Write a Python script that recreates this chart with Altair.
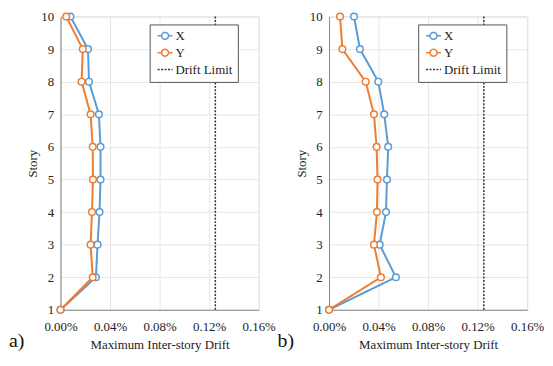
import altair as alt
import pandas as pd

stories = [1, 2, 3, 4, 5, 6, 7, 8, 9, 10]
# drift values in percent
a_x = [0.0, 0.0286, 0.0299, 0.0315, 0.0323, 0.0323, 0.031, 0.023, 0.0222, 0.008]
a_y = [0.0, 0.026, 0.0243, 0.0254, 0.0262, 0.026, 0.0243, 0.017, 0.018, 0.0046]
b_x = [0.0, 0.054, 0.0409, 0.046, 0.0468, 0.0478, 0.0446, 0.0398, 0.025, 0.0202]
b_y = [0.0, 0.0419, 0.0363, 0.0387, 0.0392, 0.0384, 0.0363, 0.0296, 0.0108, 0.0089]
drift_limit = 0.125
series_names = ["X", "Y", "Drift Limit"]
series_colors = ["#5B9BD5", "#ED7D31", "#333333"]
x_ticks = [0.0, 0.04, 0.08, 0.12, 0.16]
panel_labels = ["a)", "b)"]

FONT = "Liberation Serif"

circle_path = "M-1.5,0H-0.7M0.7,0H1.5M0.7,0A0.7,0.7,0,1,1,-0.7,0A0.7,0.7,0,1,1,0.7,0"
line_path = "M-1.5,0H1.5"

color_scale = alt.Scale(domain=series_names, range=series_colors)
dash_scale = alt.Scale(domain=series_names, range=[[1, 0], [1, 0], [2, 1.5]])
shape_scale = alt.Scale(domain=series_names, range=[circle_path, circle_path, line_path])


def make_legend():
    return alt.Legend(
        title=None,
        orient="none",
        legendX=90,
        legendY=8,
        strokeColor="#555555",
        fillColor="white",
        padding=5,
        cornerRadius=0,
        symbolSize=100,
        symbolOffset=4,
        labelOffset=4,
        rowPadding=3,
        labelFont=FONT,
        labelFontSize=13,
        labelColor="#222222",
        symbolStrokeWidth=1.5,
        symbolOpacity=1,
        symbolFillColor="transparent",
    )


def panel(xs, ys, label):
    rows = []
    for s, v in zip(stories, xs):
        rows.append({"story": s, "drift": v / 100, "series": "X"})
    for s, v in zip(stories, ys):
        rows.append({"story": s, "drift": v / 100, "series": "Y"})
    df = pd.DataFrame(rows)
    lim = pd.DataFrame({"drift": [drift_limit / 100], "series": ["Drift Limit"]})
    leg = pd.DataFrame({"series": series_names, "drift": [0, 0, 0], "story": [1, 1, 1]})

    xscale = alt.Scale(domain=[0, 0.0016], nice=False, zero=False, padding=0)
    yscale = alt.Scale(domain=[1, 10], nice=False, zero=False, padding=0)
    xenc = alt.X(
        "drift:Q",
        scale=xscale,
        axis=alt.Axis(
            values=[v / 100 for v in x_ticks],
            format=".2%",
            title="Maximum Inter-story Drift",
            labelPadding=11,
            titlePadding=5,
            labelOverlap=False,
            labelFlush=False,
        ),
    )
    yenc = alt.Y(
        "story:Q",
        scale=yscale,
        axis=alt.Axis(values=stories, format="d", title="Story", labelPadding=7, titlePadding=1,
                      labelOverlap=False, labelFlush=False),
    )
    col = alt.Color("series:N", scale=color_scale, legend=make_legend())
    dash = alt.StrokeDash("series:N", scale=dash_scale, legend=make_legend())
    base = alt.Chart(df)
    lines = base.mark_line(strokeWidth=2).encode(
        x=xenc, y=yenc, color=col, strokeDash=dash, order="story:Q"
    )
    pts = base.mark_point(shape="circle", size=45, fill="white", filled=False, strokeWidth=1.5, opacity=1).encode(
        x=xenc, y=yenc, color=col,
    )
    rule = alt.Chart(lim).mark_rule(strokeWidth=1.5).encode(x=xenc, color=col, strokeDash=dash)
    legend_layer = alt.Chart(leg).mark_point(opacity=0, filled=False).encode(
        x=xenc, y=yenc, color=col, strokeDash=dash,
        shape=alt.Shape("series:N", scale=shape_scale, legend=make_legend()),
    )
    return alt.layer(rule, lines, pts, legend_layer).properties(
        width=200,
        height=296,
        title=alt.TitleParams(
            label, orient="bottom", anchor="start", frame="bounds", fontSize=20, font=FONT,
            fontWeight="normal", baseline="alphabetic", dx=-18, dy=-8, color="#111111",
        ),
    )


chart = (
    alt.hconcat(panel(a_x, a_y, panel_labels[0]), panel(b_x, b_y, panel_labels[1]), spacing=0)
    .resolve_legend(color="independent", strokeDash="independent", shape="independent")
    .properties(padding={"left": 0, "top": 0, "right": 0, "bottom": 0})
    .configure_view(stroke="#dddddd", strokeWidth=1)
    .configure_axis(
        labelFont=FONT,
        titleFont=FONT,
        labelFontSize=13,
        titleFontSize=13,
        titleFontWeight="normal",
        labelColor="#222222",
        titleColor="#222222",
        domainColor="#888888",
        gridColor="#e6e6e6",
        ticks=False,
    )
)

chart.save("out.html", embed_options={"renderer": "svg", "actions": False})
